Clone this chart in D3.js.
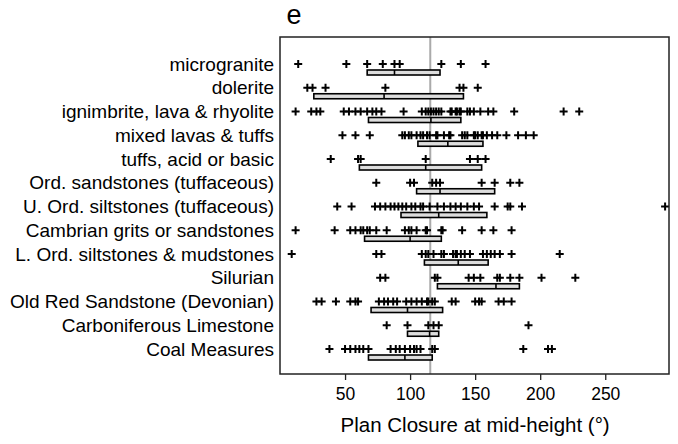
<!DOCTYPE html>
<html>
<head>
<meta charset="utf-8">
<script src="https://cdn.jsdelivr.net/npm/d3@7"></script>
<style>
  body { margin: 0; background: #fff; }
  text { font-family: "Liberation Sans", Arial, sans-serif; fill: #000; }
</style>
</head>
<body>
<script>
const categories = [
  "microgranite",
  "dolerite",
  "ignimbrite, lava & rhyolite",
  "mixed lavas & tuffs",
  "tuffs, acid or basic",
  "Ord. sandstones (tuffaceous)",
  "U. Ord. siltstones (tuffaceous)",
  "Cambrian grits or sandstones",
  "L. Ord. siltstones & mudstones",
  "Silurian",
  "Old Red Sandstone (Devonian)",
  "Carboniferous Limestone",
  "Coal Measures"
];

// individual site values, one list per category
const points = [
  [14, 51, 67, 79, 88, 92, 124, 139, 158],
  [21, 25, 35, 81, 138, 141, 152],
  [12, 24, 28, 31, 49, 53, 58, 62, 67, 71, 74, 78, 95, 109, 112, 114, 116, 118, 120, 122, 124, 131, 132, 135, 136, 138, 139, 144, 146, 149, 154, 160, 164, 180, 218, 230],
  [48, 58, 69, 94, 96, 99, 101, 105, 108, 110, 113, 115, 120, 121, 126, 130, 131, 140, 142, 144, 149, 150, 152, 155, 156, 159, 163, 167, 174, 183, 189, 195],
  [39, 60, 62, 112, 146, 152, 158],
  [74, 100, 103, 117, 120, 123, 155, 165, 177, 184],
  [44, 55, 73, 77, 81, 85, 88, 91, 94, 97, 101, 104, 108, 110, 115, 121, 126, 131, 135, 139, 144, 149, 153, 165, 175, 177, 186, 296],
  [12, 42, 54, 58, 62, 64, 67, 69, 74, 82, 96, 99, 101, 105, 112, 113, 124, 125, 140, 155, 164, 178],
  [9, 74, 78, 109, 112, 114, 118, 124, 126, 133, 135, 136, 139, 142, 146, 156, 159, 162, 165, 169, 178, 215],
  [77, 81, 119, 121, 145, 149, 154, 167, 169, 177, 184, 201, 227],
  [28, 32, 43, 54, 58, 60, 76, 80, 83, 87, 90, 97, 101, 105, 109, 113, 114, 117, 119, 132, 135, 150, 153, 155, 168, 172, 178],
  [82, 98, 114, 118, 122, 191],
  [38, 50, 54, 58, 61, 64, 68, 85, 89, 92, 96, 100, 103, 105, 108, 117, 119, 187, 206, 209]
];

// box: lower quartile, median, upper quartile
const q1 = [67, 26, 68, 106, 61, 105, 93, 65, 111, 121, 70, 98, 68];
const median = [88, 80, 116, 129, 112, 123, 122, 100, 137, 166, 98, 115, 96];
const q3 = [123, 141, 139, 156, 155, 165, 159, 124, 160, 184, 125, 122, 117];

const overallMedian = 115.5;
const xTicks = [50, 100, 150, 200, 250];

const width = 678, height = 444;
const plot = { left: 280, right: 669, top: 37, bottom: 374 };

const svg = d3.select("body")
  .append("svg")
  .attr("width", width)
  .attr("height", height);

const x = d3.scaleLinear()
  .domain([0, 299])
  .range([plot.left, plot.right]);

const y = d3.scalePoint()
  .domain(categories)
  .range([64, 349]);

// reference line
svg.append("line")
  .attr("x1", x(overallMedian)).attr("x2", x(overallMedian))
  .attr("y1", plot.top).attr("y2", plot.bottom)
  .attr("stroke", "#aaa")
  .attr("stroke-width", 2);

const row = svg.selectAll(".row")
  .data(categories)
  .enter()
  .append("g")
  .classed("row", true)
  .attr("transform", d => `translate(0,${y(d)})`);

row.append("text")
  .attr("x", 274)
  .attr("y", 0)
  .attr("dy", "0.35em")
  .attr("text-anchor", "end")
  .style("font-size", "19px")
  .text(d => d);

// boxes
row.append("rect")
  .attr("x", (d, i) => x(q1[i]))
  .attr("width", (d, i) => x(q3[i]) - x(q1[i]))
  .attr("y", 6)
  .attr("height", 5)
  .attr("fill", "#ddd")
  .attr("stroke", "#000")
  .attr("stroke-width", 1.6);

row.append("line")
  .attr("x1", (d, i) => x(median[i]))
  .attr("x2", (d, i) => x(median[i]))
  .attr("y1", 6).attr("y2", 11)
  .attr("stroke", "#000")
  .attr("stroke-width", 1.6);

// plus markers
row.selectAll(".pt")
  .data((d, i) => points[i])
  .enter()
  .append("path")
  .classed("pt", true)
  .attr("d", v => `M${x(v) - 4},0H${x(v) + 4}M${x(v)},-4V4`)
  .attr("stroke", "#000")
  .attr("stroke-width", 2);

// frame
svg.append("rect")
  .attr("x", plot.left).attr("y", plot.top)
  .attr("width", plot.right - plot.left)
  .attr("height", plot.bottom - plot.top)
  .attr("fill", "none")
  .attr("stroke", "#222")
  .attr("stroke-width", 1.5);

const xAxis = svg.append("g")
  .attr("transform", `translate(0,${plot.bottom})`)
  .call(d3.axisBottom(x).tickValues(xTicks).tickSize(6).tickPadding(8));

xAxis.select(".domain").remove();
xAxis.selectAll(".tick line").attr("stroke", "#222").attr("stroke-width", 1.3);
xAxis.selectAll(".tick text")
  .style("font-size", "17.5px")
  .style("font-family", "'Liberation Sans', Arial, sans-serif");

svg.append("text")
  .attr("x", x(150))
  .attr("y", 432)
  .attr("text-anchor", "middle")
  .style("font-size", "20.5px")
  .text("Plan Closure at mid-height (°)");

svg.append("text")
  .attr("x", 294)
  .attr("y", 24)
  .attr("text-anchor", "middle")
  .style("font-size", "27px")
  .text("e");
</script>
</body>
</html>
